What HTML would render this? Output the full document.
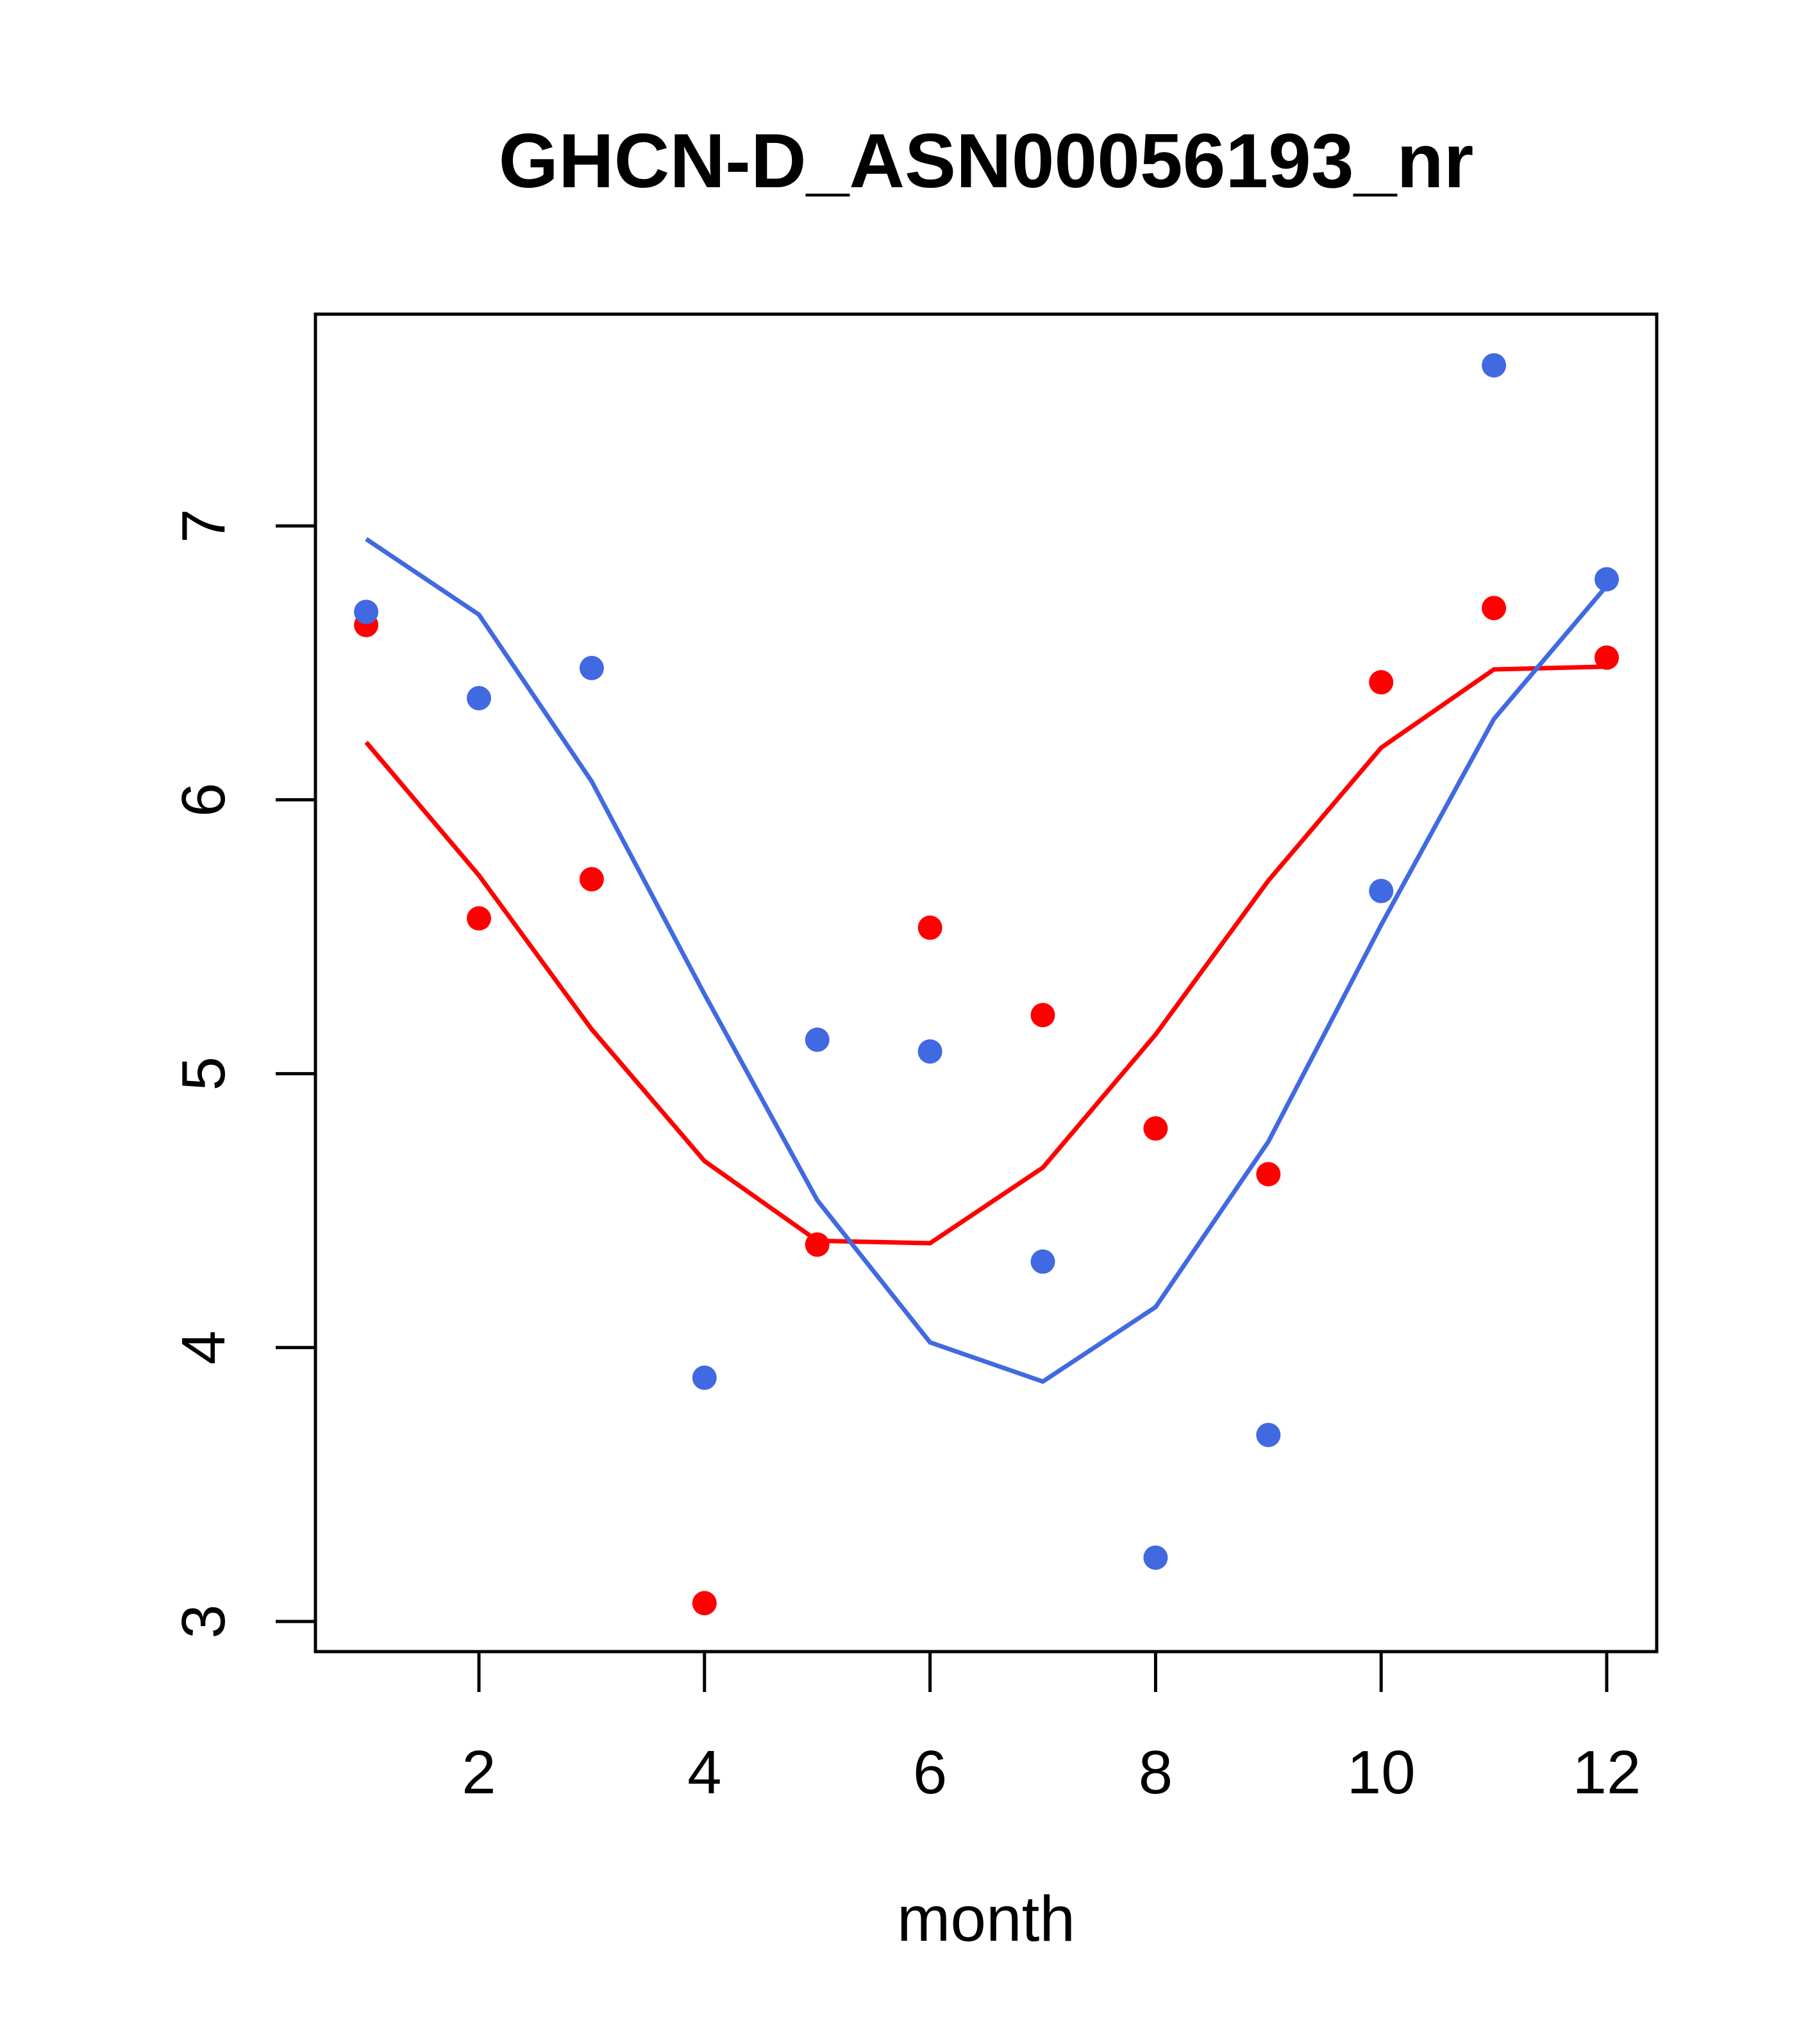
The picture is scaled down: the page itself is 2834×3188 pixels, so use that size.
<!DOCTYPE html>
<html><head><meta charset="utf-8"><style>html,body{margin:0;padding:0;background:#fff}svg{display:block}</style></head>
<body>
<svg id="chart" width="2834" height="3188" viewBox="0 0 2834 3188" xmlns="http://www.w3.org/2000/svg" font-family="'Liberation Sans', sans-serif">
<rect width="2834" height="3188" fill="#fff"/>
<text x="1538" y="292" font-size="120" font-weight="bold" text-anchor="middle">GHCN-D_ASN00056193_nr</text>
<rect x="492" y="490" width="2092" height="2086" fill="none" stroke="#000" stroke-width="5"/>
<text x="1538" y="3027" font-size="100" text-anchor="middle">month</text>
<g id="axes"></g><g id="series"></g>
</svg>
<script>
const months=[1,2,3,4,5,6,7,8,9,10,11,12];
const xTicks=[2,4,6,8,10,12];
const yTicks=[3,4,5,6,7];
const bluePoints=[6.686,6.371,6.481,3.890,5.124,5.081,4.314,3.233,3.681,5.667,7.586,6.805];
const redPoints=[6.638,5.567,5.710,3.067,4.376,5.533,5.214,4.800,4.633,6.429,6.700,6.519];
const blueLine=[6.952,6.676,6.067,5.290,4.538,4.019,3.876,4.148,4.752,5.543,6.295,6.781];
const redLine=[6.210,5.724,5.162,4.681,4.390,4.381,4.657,5.143,5.705,6.190,6.476,6.486];
const NS="http://www.w3.org/2000/svg";
const xs=v=>747+(v-2)*175.9;
const ys=v=>2529-(v-3)*427.2;
const axes=document.getElementById('axes'),ser=document.getElementById('series');
function mk(tag,attrs,parent){const e=document.createElementNS(NS,tag);for(const k in attrs)e.setAttribute(k,attrs[k]);parent.appendChild(e);return e;}
xTicks.forEach(t=>{
 const l=mk('line',{x1:xs(t),x2:xs(t),y1:2576,y2:2639,stroke:'#000','stroke-width':5},axes);
 
 
 const tx=mk('text',{x:xs(t),y:2797,'font-size':96,'text-anchor':'middle'},axes);tx.textContent=t;
 
 
});
const xl=mk('line',{x1:xs(2),x2:xs(12),y1:2576,y2:2576,stroke:'#000','stroke-width':5},axes);


yTicks.forEach(t=>{
 const l=mk('line',{x1:430,x2:492,y1:ys(t),y2:ys(t),stroke:'#000','stroke-width':5},axes);
 
 
 const tx=mk('text',{x:0,y:0,'font-size':96,'text-anchor':'middle',transform:`translate(350,${ys(t)}) rotate(-90)`},axes);tx.textContent=t;
 
 
});
const yl=mk('line',{x1:492,x2:492,y1:ys(3),y2:ys(7),stroke:'#000','stroke-width':5},axes);


function line(vals,color,name){
 const p=mk('polyline',{points:vals.map((v,i)=>xs(months[i])+','+ys(v)).join(' '),fill:'none',stroke:color,'stroke-width':7},ser);
 
 
}
function pts(vals,color,name){
 vals.forEach((v,i)=>{
  const c=mk('circle',{cx:xs(months[i]),cy:ys(v),r:19,fill:color},ser);
  
  
 });
}
line(redLine,'#ff0000','red-line');
line(blueLine,'#4169e1','blue-line');
pts(redPoints,'#ff0000','red-point');
pts(bluePoints,'#4169e1','blue-point');
</script>
</body></html>
